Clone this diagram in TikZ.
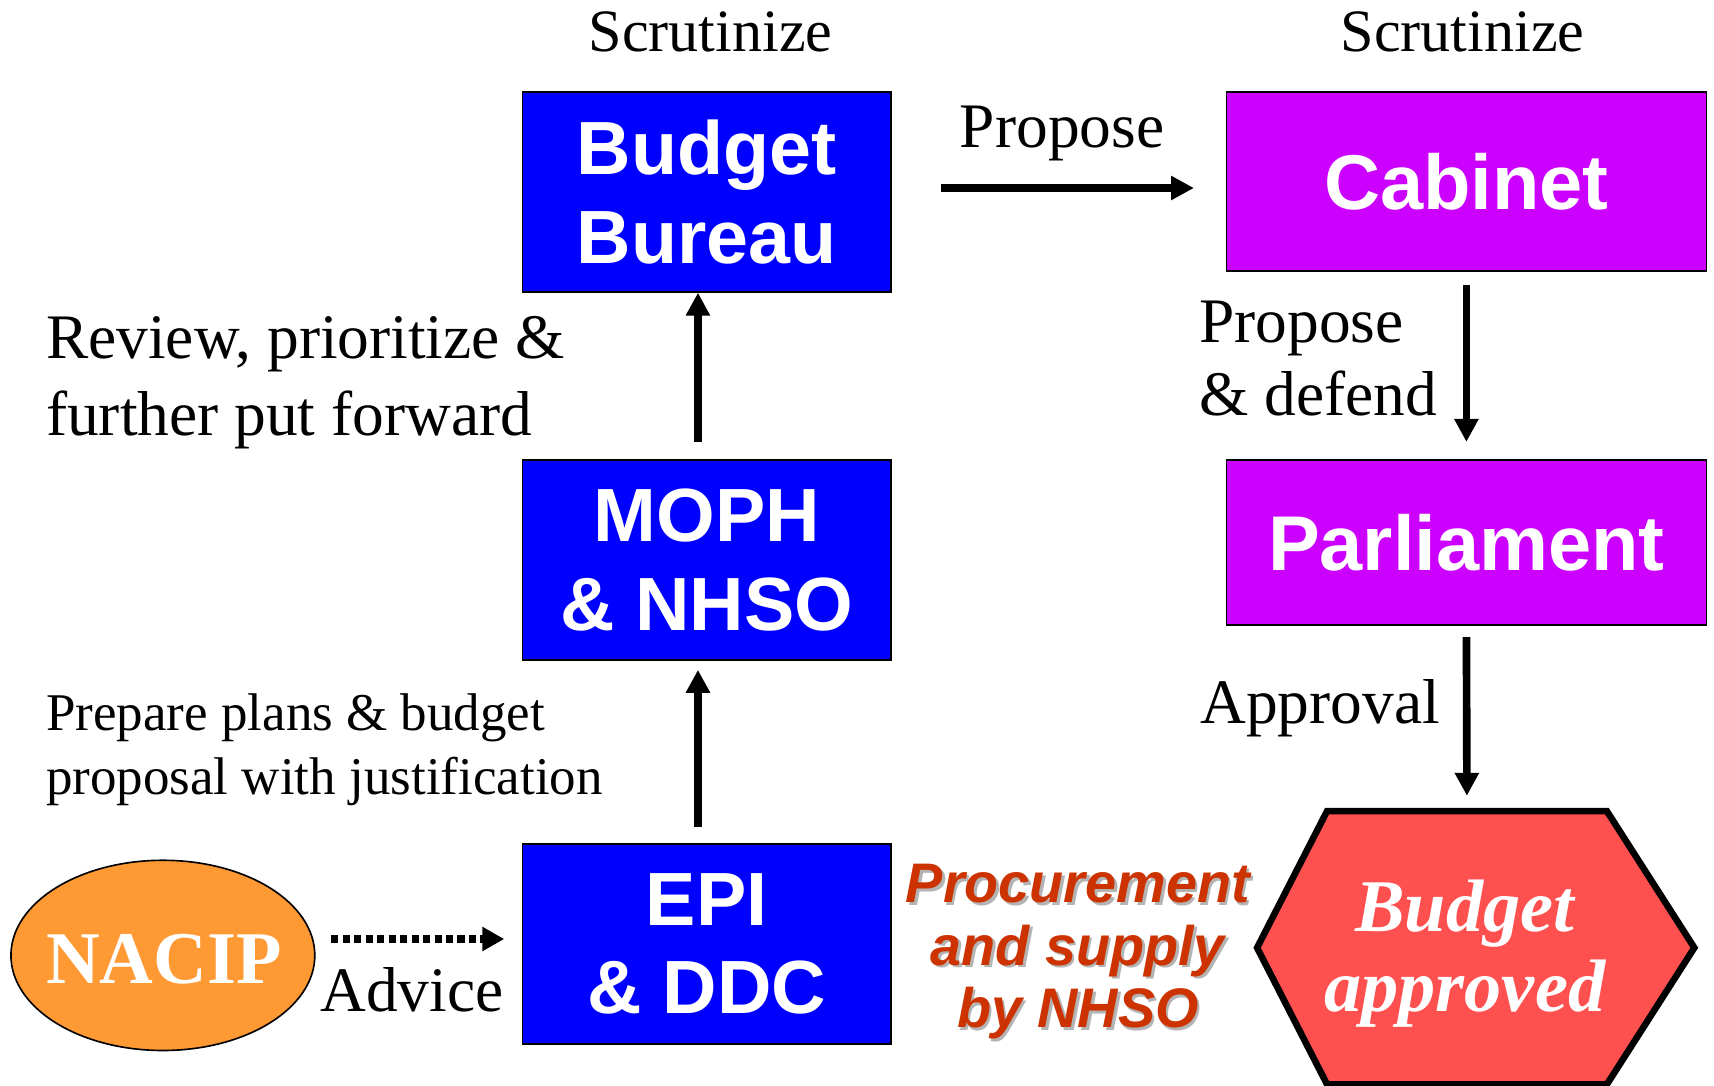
\documentclass[tikz,border=0pt]{standalone}
\usepackage{fontspec}
\setmainfont{Liberation Serif}
\newfontfamily\arial{Liberation Sans}
\usetikzlibrary{arrows.meta,calc}
\definecolor{boxblue}{HTML}{0000FF}
\definecolor{boxmag}{HTML}{CC00FF}
\definecolor{nacip}{HTML}{FF9933}
\definecolor{hexred}{HTML}{FF5050}
\definecolor{procred}{HTML}{CC3300}
\definecolor{shadowgray}{HTML}{B4B4B4}
\begin{document}
\begin{tikzpicture}[x=1pt,y=-1pt,
  bluebox/.style={draw=black,line width=1.5pt,fill=boxblue,text=white,
    minimum width=337pt,minimum height=183pt,inner sep=0pt,align=center,
    font=\arial\bfseries\fontsize{69}{81}\selectfont},
  magbox/.style={draw=black,line width=1.5pt,fill=boxmag,text=white,
    minimum width=439pt,inner sep=0pt,align=center,
    font=\arial\bfseries\fontsize{71}{81}\selectfont},
  lbl/.style={inner sep=0pt,anchor=base west,align=left,
    font=\fontsize{58}{70}\selectfont},
  arr/.style={line width=7pt,-{Triangle[length=21pt,width=21pt]}},
  dotarr/.style={line width=6.5pt,dash pattern=on 6.5pt off 4pt,
    -{Triangle[length=20pt,width=21pt]}},
]
\useasboundingbox (0,0) rectangle (1568,993);
% boxes
\node[bluebox] (bb) at (646.5,175.5) {Budget\\Bureau};
\node[bluebox] (moph) at (646.5,512.5) {MOPH\\\& NHSO};
\node[bluebox] (epi) at (646.5,863.5) {EPI\\\& DDC};
\node[magbox,minimum height=164pt] (cab) at (1341.5,166) {Cabinet};
\node[magbox,minimum height=151pt] (parl) at (1341.5,496.5) {\raisebox{-7pt}{Parliament}};
% NACIP ellipse
\draw[fill=nacip,draw=black,line width=1.5pt] (149,874) ellipse [x radius=139,y radius=87];
\node[inner sep=0pt,text=white,font=\bfseries\fontsize{68}{70}\selectfont,anchor=base]
  (nacip) at (150,900) {NACIP};
\coordinate (nacipE) at (288,874);
% hexagon
\draw[fill=hexred,draw=black,line width=6pt,line join=miter]
  (1214,742) -- (1470,742) -- (1550,867) -- (1470,992) -- (1214,992) -- (1150,867) -- cycle;
\coordinate (hextop) at (1342,742);
\node[inner sep=0pt,text=white,align=center,anchor=base,
  font=\bfseries\itshape\fontsize{68}{73}\selectfont] (hex) at (1340,925) {Budget\\approved};
% labels
\node[inner sep=0pt,anchor=base,font=\fontsize{55}{60}\selectfont] (scr1) at (650,47) {Scrutinize};
\node[inner sep=0pt,anchor=base,font=\fontsize{55}{60}\selectfont] (scr2) at (1338,47) {Scrutinize};
\node[lbl] (prop1) at (878,135) {Propose};
\node[lbl] (review) at (42,398) {Review, prioritize \&\\further put forward};
\node[lbl,font=\fontsize{48.5}{59}\selectfont] (prep) at (42,727) {Prepare plans \& budget\\proposal with justification};
\node[lbl,font=\fontsize{58}{67}\selectfont] (prop2) at (1097,380) {Propose\\\& defend};
\node[lbl] (appr) at (1098,662) {Approval};
\node[lbl] (adv) at (293,925) {Advice};
% procurement
\node[inner sep=0pt,anchor=base,align=center,text=shadowgray,
  font=\arial\bfseries\itshape\fontsize{51}{57}\selectfont] (procshadow) at (988.5,942.5) {Procurement\\and supply\\by NHSO};
\node[inner sep=0pt,anchor=base,align=center,text=procred,
  font=\arial\bfseries\itshape\fontsize{51}{57}\selectfont] (proc) at (986,940) {Procurement\\and supply\\by NHSO};
% connectors
\coordinate (yh) at (0,172);
\coordinate (yd) at (0,859);
\draw[arr,shorten <=15pt,shorten >=8pt] ([xshift=-8pt]epi.north) -- ([xshift=-8pt]moph.south);
\draw[arr,shorten <=16pt] ([xshift=-8pt]moph.north) -- ([xshift=-8pt]bb.south);
\draw[arr,shorten <=45pt,shorten >=29pt] (bb.east |- yh) -- (cab.west |- yh);
\draw[arr,shorten <=12pt,shorten >=16pt] (cab.south) -- (parl.north);
\draw[arr,shorten <=10pt,shorten >=14pt] (parl.south) -- (hextop);
\draw[dotarr,shorten <=15pt,shorten >=16pt] (nacipE |- yd) -- (epi.west |- yd);
\end{tikzpicture}
\end{document}
